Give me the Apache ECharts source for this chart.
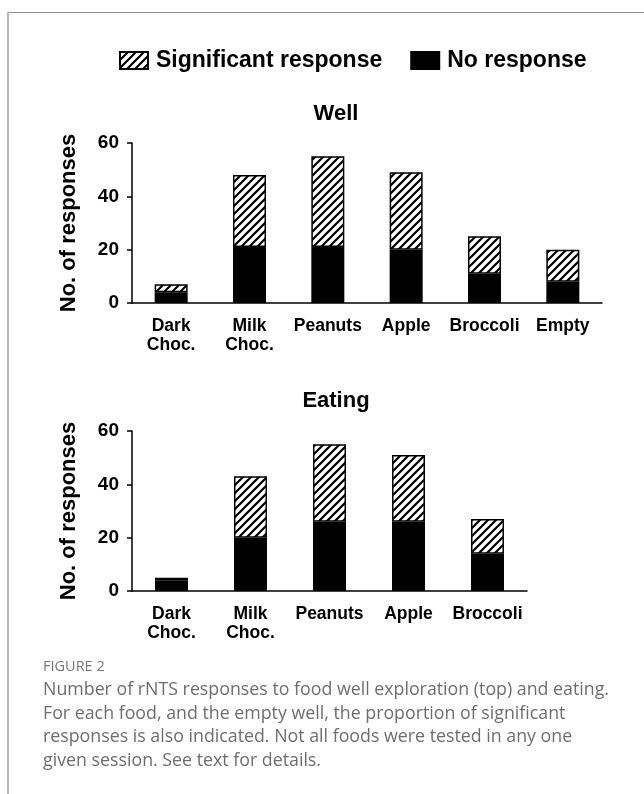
<!DOCTYPE html>
<html>
<head>
<meta charset="utf-8">
<script src="https://cdn.jsdelivr.net/npm/echarts@6/dist/echarts.min.js"></script>
<style>
  html, body { margin: 0; padding: 0; background: #fff; }
  #chart { width: 644px; height: 794px; }
</style>
</head>
<body>
<div id="chart"></div>
<script>
// Response counts per food, split into non-significant (solid) and significant (hatched)
const wellCategories = ['Dark\nChoc.', 'Milk\nChoc.', 'Peanuts', 'Apple', 'Broccoli', 'Empty'];
const wellNoResponse = [4, 21, 21, 20, 11, 8];
const wellSignificant = [3, 27, 34, 29, 14, 12];

const eatingCategories = ['Dark\nChoc.', 'Milk\nChoc.', 'Peanuts', 'Apple', 'Broccoli'];
const eatingNoResponse = [4, 20, 26, 26, 14];
const eatingSignificant = [1, 23, 29, 25, 13];

const yTicks = [0, 20, 40, 60];

const captionLines = [
  'Number of rNTS responses to food well exploration (top) and eating.',
  'For each food, and the empty well, the proportion of significant',
  'responses is also indicated. Not all foods were tested in any one',
  'given session. See text for details.'
];

// Diagonal hatch tile for the "significant" segments
function hatchTile() {
  const s = 8;
  const c = document.createElement('canvas');
  c.width = s; c.height = s;
  const g = c.getContext('2d');
  g.fillStyle = '#fff';
  g.fillRect(0, 0, s, s);
  g.strokeStyle = '#000';
  g.lineWidth = 2.2;
  g.beginPath();
  g.moveTo(-2, s + 2); g.lineTo(s + 2, -2);
  g.moveTo(-2, 2); g.lineTo(2, -2);
  g.moveTo(s - 2, s + 2); g.lineTo(s + 2, s - 2);
  g.stroke();
  return c;
}
const hatch = { image: hatchTile(), repeat: 'repeat' };

const FONT = '"Liberation Sans", Arial, sans-serif';
const CAPTION_FONT = '"Open Sans", "Noto Sans", sans-serif';

function yAxisFor(gridIndex) {
  return {
    type: 'value', gridIndex: gridIndex,
    min: yTicks[0], max: yTicks[yTicks.length - 1], interval: yTicks[1] - yTicks[0],
    name: 'No. of responses', nameLocation: 'middle', nameGap: 52, nameRotate: 90,
    nameTextStyle: { fontFamily: FONT, fontWeight: 'bold', fontSize: 22, color: '#000' },
    axisLine: { show: true, lineStyle: { color: '#000', width: 1.5 } },
    axisTick: { show: true, length: 5, lineStyle: { color: '#000', width: 1.5 } },
    axisLabel: { fontFamily: FONT, fontWeight: 'bold', fontSize: 19, color: '#000', margin: 13 },
    splitLine: { show: false }
  };
}
function xAxisFor(gridIndex, cats) {
  return {
    type: 'category', gridIndex: gridIndex, data: cats,
    axisLine: { show: true, lineStyle: { color: '#000', width: 1.5 } },
    axisTick: { show: false },
    axisLabel: { interval: 0, fontFamily: FONT, fontWeight: 'bold', fontSize: 17.5, color: '#000', margin: 14, lineHeight: 19 }
  };
}
function barPair(idx, noResp, sig, stack) {
  const common = { type: 'bar', xAxisIndex: idx, yAxisIndex: idx, stack: stack, barWidth: 33 };
  return [
    Object.assign({}, common, {
      name: 'No response', data: noResp,
      itemStyle: { color: '#000', borderColor: '#000', borderWidth: 1.5 }
    }),
    Object.assign({}, common, {
      name: 'Significant response', data: sig,
      itemStyle: { color: hatch, borderColor: '#000', borderWidth: 1.5 }
    })
  ];
}

const chart = echarts.init(document.getElementById('chart'), null, { renderer: 'canvas' });
chart.setOption({
  animation: false,
  backgroundColor: '#fff',
  title: [
    { text: 'Well', left: 331, top: 98, textAlign: 'center',
      textStyle: { fontFamily: FONT, fontWeight: 'bold', fontSize: 22, color: '#000' } },
    { text: 'Eating', left: 331, top: 385, textAlign: 'center',
      textStyle: { fontFamily: FONT, fontWeight: 'bold', fontSize: 22, color: '#000' } }
  ],
  legend: {
    data: ['Significant response', 'No response'],
    left: 114, top: 44,
    icon: 'rect', itemWidth: 28, itemHeight: 17, itemGap: 28,
    selectedMode: false,
    textStyle: { fontFamily: FONT, fontWeight: 'bold', fontSize: 23, color: '#000', padding: [0, 0, 0, 3] }
  },
  grid: [
    { left: 132, top: 143, width: 470, height: 160 },
    { left: 132, top: 431, width: 395, height: 160 }
  ],
  xAxis: [xAxisFor(0, wellCategories), xAxisFor(1, eatingCategories)],
  yAxis: [yAxisFor(0), yAxisFor(1)],
  series: [].concat(
    barPair(0, wellNoResponse, wellSignificant, 'well'),
    barPair(1, eatingNoResponse, eatingSignificant, 'eating')
  ),
  graphic: [
    { type: 'line', shape: { x1: 8, y1: 12.5, x2: 644, y2: 12.5 }, style: { stroke: '#8c8c8c', lineWidth: 1 } },
    { type: 'line', shape: { x1: 8, y1: 12, x2: 8, y2: 794 }, style: { stroke: '#b8b8b8', lineWidth: 2 } },
    { type: 'text', x: 43, y: 667,
      style: { text: 'FIGURE 2', font: '500 14.5px ' + CAPTION_FONT, fill: '#777', verticalAlign: 'middle' } }
  ].concat(captionLines.map(function (line, i) {
    return { type: 'text', x: 43, y: 690 + i * 23.7,
      style: { text: line, font: '17.8px ' + CAPTION_FONT, fill: '#6e6e6e', verticalAlign: 'middle' } };
  }))
});
</script>
</body>
</html>
